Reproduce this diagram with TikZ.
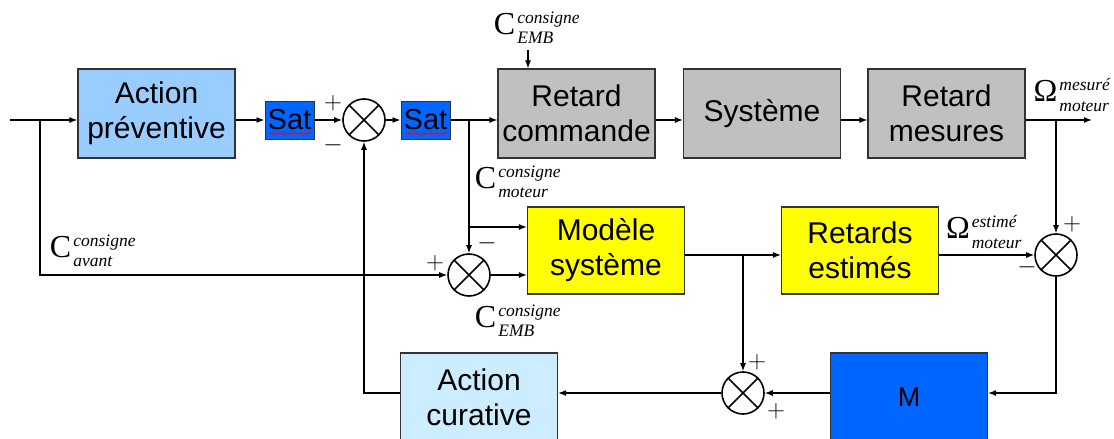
\documentclass[tikz,border=0pt]{standalone}
\usepackage{fontspec}
\usepackage{amsmath}
\setmainfont{Liberation Sans}
\newfontfamily\lblfont{Liberation Serif}
\usetikzlibrary{arrows.meta,decorations.pathmorphing}

\definecolor{prevblue}{RGB}{153,204,255}
\definecolor{curblue}{RGB}{204,236,255}
\definecolor{grisbox}{RGB}{192,192,192}
\definecolor{jaune}{RGB}{255,255,0}
\definecolor{mblue}{RGB}{0,102,255}

% signal label: big base letter, italic scripts
\newcommand{\sig}[3]{{\fontsize{32}{32}\selectfont #1}\kern2pt%
    $^{\text{\raisebox{2pt}{\itshape #2}}}_{\text{\raisebox{-3pt}{\itshape #3}}}$}

\begin{document}
\begin{tikzpicture}[x=1pt, y=-1pt, line width=1.2pt,
    block/.style={draw=black!80, line width=1.2pt, minimum width=157pt, minimum height=89pt,
        align=center, inner sep=0pt, font=\fontsize{30}{35}\selectfont},
    satbox/.style={draw=black!80, line width=1pt, fill=mblue, minimum width=49pt, minimum height=38pt,
        inner sep=0pt, font=\fontsize{29}{29}\selectfont},
    sum/.style={draw, circle, line width=1.6pt, minimum size=42pt, inner sep=0pt,
        path picture={\draw[line width=1.6pt]
            (path picture bounding box.south west) -- (path picture bounding box.north east)
            (path picture bounding box.north west) -- (path picture bounding box.south east);}},
    sign/.style={inner sep=0pt, font=\fontsize{28}{28}\selectfont},
    lbl/.style={inner sep=0pt, font=\lblfont\fontsize{25}{28}\selectfont},
    arr/.style={-{Latex[length=8pt,width=6pt]}},
    squiggle/.style={red, line width=0.6pt, decorate, decoration={snake, amplitude=1pt, segment length=3pt}}]
    \useasboundingbox (0,0) rectangle (1114,439);

    % Blocks of the main chain
    \node[block, fill=prevblue] (prev) at (156.5,113.5) {Action\\préventive};
    \node[satbox] (sat1) at (289.5,120) {Sat};
    \node[sum] (s1) at (364,120) {};
    \node[satbox] (sat2) at (425.5,120) {Sat};
    \node[block, fill=grisbox] (rcmd) at (576.5,113.5) {Retard\\commande};
    \node[block, fill=grisbox] (sys) at (762,113.5) {Système};
    \node[block, fill=grisbox] (rmes) at (946.5,113.5) {Retard\\mesures};

    % Model branch
    \node[sum] (s2) at (469,275) {};
    \node[block, fill=jaune, minimum height=87pt] (mod) at (606,250.5) {Modèle\\système};
    \node[block, fill=jaune, minimum height=87pt] (rest) at (860,250.5) {Retards\\estimés};
    \node[sum] (s3) at (1056,255) {};

    % Correction loop
    \node[sum] (s4) at (743,393) {};
    \node[block, fill=curblue] (cur) at (479,397.5) {Action\\curative};
    \node[block, fill=mblue, font=\fontsize{27}{30}\selectfont] (m) at (909,397.5) {M};

    % Spell-check marks under Sat
    \draw[squiggle] ([xshift=4pt,yshift=6pt]sat1.south west) -- ([xshift=-4pt,yshift=6pt]sat1.south east);
    \draw[squiggle] ([xshift=4pt,yshift=6pt]sat2.south west) -- ([xshift=-4pt,yshift=6pt]sat2.south east);

    % Branch points
    \coordinate (in) at (10,120);
    \coordinate (j0) at (40,120);
    \coordinate (j1) at (469,120);
    \coordinate (j2) at (469,227);
    \coordinate (j3) at (743,255);
    \coordinate (j4) at (1056,120);
    \coordinate (out) at (1092,120);
    \coordinate (emb) at (528,50);

    % Main chain connectors
    \draw (in) -- (j0);
    \draw[arr] (j0) -- (j0 -| prev.west);
    \draw[arr] (prev.east |- j0) -- (sat1.west);
    \draw[arr] (sat1) -- (s1);
    \draw[arr] (s1) -- (sat2);
    \draw (sat2) -- (j1);
    \draw[arr] (j1) -- (j1 -| rcmd.west);
    \draw[arr] (rcmd.east |- j1) -- (sys.west |- j1);
    \draw[arr] (sys.east |- j1) -- (rmes.west |- j1);
    \draw[arr] (rmes.east |- j1) -- (out);
    \draw[arr] (emb) -- (emb |- rcmd.north);

    % Model connectors
    \draw[arr] (j0) |- (s2);
    \draw[arr] (j1) -- (s2);
    \draw[arr] (j2) -- (j2 -| mod.west);
    \draw[arr] (s2) -- (s2 -| mod.west);
    \draw[arr] (mod.east |- j3) -- (rest.west |- j3);
    \draw[arr] (rest.east |- j3) -- (s3);
    \draw[arr] (j4) -- (s3);

    % Loop connectors
    \draw[arr] (s3) |- (m.east |- s4);
    \draw[arr] (m.west |- s4) -- (s4);
    \draw[arr] (j3) -- (s4);
    \draw[arr] (s4) -- (s4 -| cur.east);
    \draw[arr] (cur.west |- s4) -| (s1);

    % Signs
    \node[sign] (p1) at (333,103) {$+$};
    \node[sign] (n1) at (333,145) {$-$};
    \node[sign] (p2) at (435,263) {$+$};
    \node[sign] (n2) at (487,243) {$-$};
    \node[sign] (p3) at (1072,224) {$+$};
    \node[sign] (n3) at (1027,267) {$-$};
    \node[sign] (p4) at (757,362) {$+$};
    \node[sign] (p5) at (776,411) {$+$};

    % Signal labels
    \node[lbl] (lemb) at (537,28) {\sig{C}{consigne}{EMB}};
    \node[lbl] (lmot) at (518,182) {\sig{C}{consigne}{moteur}};
    \node[lbl] (lemb2) at (518,321) {\sig{C}{consigne}{EMB}};
    \node[lbl] (lav) at (93,251) {\sig{C}{consigne}{avant}};
    \node[lbl] (lmes) at (1072,95) {\sig{Ω}{mesuré}{moteur}};
    \node[lbl] (lest) at (984,232) {\sig{Ω}{estimé}{moteur}};
\end{tikzpicture}
\end{document}
